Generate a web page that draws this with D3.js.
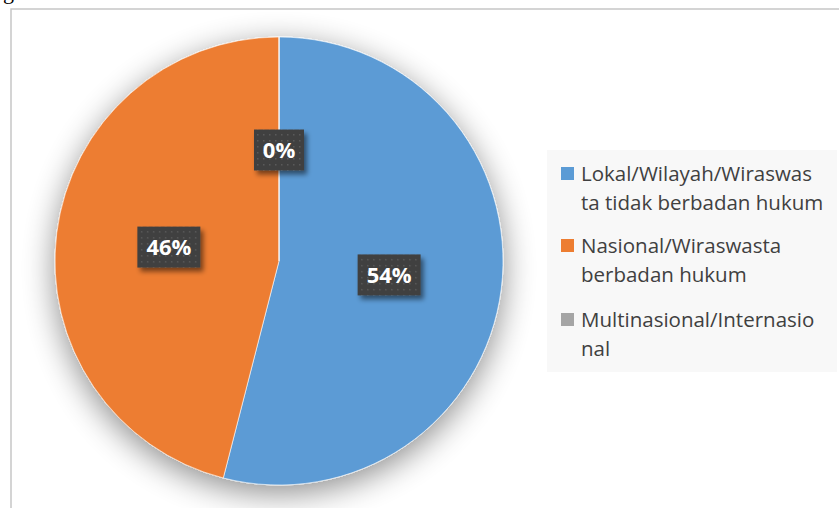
<!DOCTYPE html>
<html>
<head>
<meta charset="utf-8">
<script src="https://cdn.jsdelivr.net/npm/d3@7"></script>
<style>
  body { margin: 0; background: #fff; }
  svg { display: block; }
</style>
</head>
<body>
<svg width="839" height="508"></svg>
<script>
const categories = ["Lokal/Wilayah/Wiraswasta tidak berbadan hukum", "Nasional/Wiraswasta berbadan hukum", "Multinasional/Internasional"];
const legendLines = [["Lokal/Wilayah/Wiraswas", "ta tidak berbadan hukum"], ["Nasional/Wiraswasta", "berbadan hukum"], ["Multinasional/Internasio", "nal"]];
const values = [54, 46, 0];
const colors = ["#5b9bd5", "#ed7d31", "#a5a5a5"];

var svg = d3.select("svg");
var cx = 279, cy = 261, radius = 224;

var defs = svg.append("defs");

// soft shadow around the pie
var sh = defs.append("filter").attr("id", "pieShadow")
    .attr("x", "-30%").attr("y", "-30%").attr("width", "160%").attr("height", "160%");
sh.append("feGaussianBlur").attr("in", "SourceAlpha").attr("stdDeviation", 16);
sh.append("feOffset").attr("dx", 0).attr("dy", 8).attr("result", "b");
sh.append("feComponentTransfer").append("feFuncA").attr("type", "linear").attr("slope", 0.45);
var m = sh.append("feMerge");
m.append("feMergeNode");
m.append("feMergeNode").attr("in", "SourceGraphic");

// shadow for label boxes
var ls = defs.append("filter").attr("id", "labShadow")
    .attr("x", "-30%").attr("y", "-30%").attr("width", "160%").attr("height", "160%");
ls.append("feGaussianBlur").attr("in", "SourceAlpha").attr("stdDeviation", 2.5);
ls.append("feOffset").attr("dx", 3).attr("dy", 4);
ls.append("feComponentTransfer").append("feFuncA").attr("type", "linear").attr("slope", 0.5);
var m2 = ls.append("feMerge");
m2.append("feMergeNode");
m2.append("feMergeNode").attr("in", "SourceGraphic");

// dotted pattern on label boxes
var pat = defs.append("pattern").attr("id", "dots")
    .attr("width", 6).attr("height", 6).attr("patternUnits", "userSpaceOnUse");
pat.append("rect").attr("width", 6).attr("height", 6).attr("fill", "#404040");
pat.append("rect").attr("x", 2).attr("y", 2).attr("width", 1.5).attr("height", 1.5).attr("fill", "#5a5a5a");

// partial text from the page above
svg.append("text").attr("x", 3).attr("y", -1)
    .style("font-family", "Liberation Serif").style("font-size", "22px").text("g");

// chart frame
svg.append("rect").attr("x", 11).attr("y", 9).attr("width", 860).attr("height", 520)
    .attr("fill", "#fff").attr("stroke", "#c6c6c6").attr("stroke-width", 1.5);

var pie = d3.pie().sort(null).value(d => d);
var arc = d3.arc().innerRadius(0).outerRadius(radius);
var arcs = pie(values);

var g = svg.append("g").attr("transform", "translate(" + cx + "," + cy + ")");

g.append("g").attr("filter", "url(#pieShadow)")
  .selectAll("path")
  .data(arcs)
  .enter()
  .append("path")
  .attr("d", arc)
  .attr("fill", (d, i) => colors[i])
  .attr("stroke", "#fff")
  .attr("stroke-width", 0.6);

// labels
var total = d3.sum(values);
var labArc = d3.arc().innerRadius(0).outerRadius(radius - 2);
var labs = g.selectAll("g.lab")
  .data(arcs)
  .enter()
  .append("g")
  .attr("class", "lab")
  .attr("transform", d => "translate(" + labArc.centroid(d) + ")");

labs.each(function (d) {
  var t = Math.round(d.value / total * 100) + "%";
  var w = t.length === 2 ? 50 : 63;
  var s = d3.select(this);
  s.append("rect").attr("x", -w / 2).attr("y", -20.5).attr("width", w).attr("height", 41)
    .attr("fill", "url(#dots)").attr("filter", "url(#labShadow)");
  s.append("text").attr("text-anchor", "middle").attr("y", 8)
    .attr("fill", "#fff")
    .style("font-family", "Open Sans").style("font-weight", "bold").style("font-size", "22px")
    .text(t);
});

// legend
var lg = svg.append("g");
lg.append("rect").attr("x", 547).attr("y", 150).attr("width", 290).attr("height", 222).attr("fill", "#f8f8f8");
var baseY = [181, 253, 327];
legendLines.forEach(function (lines, i) {
  lg.append("rect").attr("x", 561).attr("y", baseY[i] - 14).attr("width", 13).attr("height", 13).attr("fill", colors[i]);
  lines.forEach(function (ln, j) {
    lg.append("text").attr("x", 581).attr("y", baseY[i] + j * 29)
      .attr("fill", "#404040")
      .style("font-family", "Open Sans").style("font-size", "20.5px")
      .text(ln);
  });
});
</script>
</body>
</html>
